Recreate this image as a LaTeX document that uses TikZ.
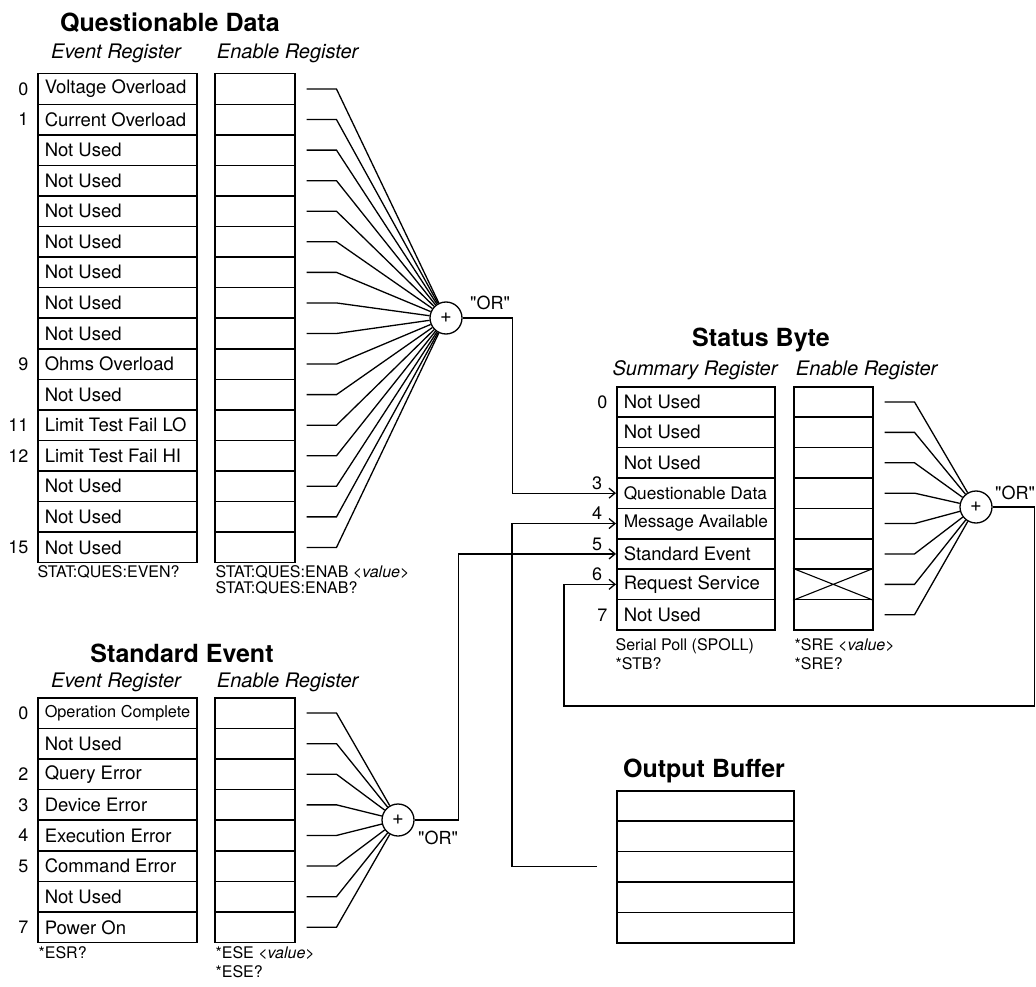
\documentclass[tikz,border=0pt]{standalone}
\usepackage{fontspec}
\setmainfont{TeX Gyre Heros}[Ligatures=TeXOff]
\usetikzlibrary{arrows.meta}

\newcommand{\sm}{\fontsize{17.3}{20}\selectfont}
\newcommand{\celltxt}[2]{\makebox[#1][l]{#2}}

\begin{document}
\begin{tikzpicture}[x=1pt,y=-1pt,line width=1.3pt,
        cell/.style={draw,line width=1.5pt,inner sep=0pt,anchor=north west},
        txtcell/.style={cell,inner xsep=7pt,font=\fontsize{18.5}{20}\selectfont},
        gate/.style={draw,circle,minimum size=32pt,inner sep=0pt,font=\fontsize{20}{20}\selectfont},
        title/.style={font=\bfseries\fontsize{25}{28}\selectfont},
        head/.style={font=\itshape\fontsize{20}{22}\selectfont},
        num/.style={anchor=east,inner sep=0pt,font=\fontsize{18}{20}\selectfont},
        ortxt/.style={inner sep=0pt,font=\fontsize{18}{20}\selectfont},
        cmd/.style={anchor=north west,inner sep=0pt,align=left,font=\fontsize{16}{19}\selectfont},
        arr/.style={-{Straight Barb[length=6pt,width=10pt]}}]
            \useasboundingbox (0,0) rectangle (1036,987);

            \node[title] (qtitle) at (170,23) {Questionable Data};
            \node[head] (qev) at (116,53) {Event Register};
            \node[head,anchor=west] (qen) at (213,53) {Enable Register};
            \node[gate] (qgate) at (446,318) {+};
            \node[ortxt] (qor) at (490,303) {"OR"};
            \foreach \lbl [count=\i from 0] in {Voltage Overload,Current Overload,Not Used,Not Used,Not Used,Not Used,Not Used,Not Used,Not Used,Ohms Overload,Not Used,Limit Test Fail LO,Limit Test Fail HI,Not Used,Not Used,Not Used}{
                \node[txtcell,minimum height=30.56pt] (qe\i) at (37,73+\i*30.56) {\celltxt{145pt}{\lbl}};
                \node[cell,minimum width=80pt,minimum height=30.56pt] (qn\i) at (214,73+\i*30.56) {};
                \draw (qn\i.east) ++(11,0) -- ++(30,0) -- (qgate);
            }
            \foreach \i in {0,1,9,11,12,15}
                \node[num] (qnum\i) at ([xshift=-8pt]qe\i.west) {\i};
            \node[cmd] (qevcmd) at (37,565) {STAT:QUES:EVEN?};
            \node[cmd,font=\fontsize{16}{16}\selectfont] (qencmd) at (215,565) {STAT:QUES:ENAB \textit{<value>}\\STAT:QUES:ENAB?};

            \node[title] (stitle) at (182,653) {Standard Event};
            \node[head] (sev) at (116,682) {Event Register};
            \node[head,anchor=west] (sen) at (213,682) {Enable Register};
            \node[gate] (sgate) at (398,820) {+};
            \node[ortxt] (sor) at (438,838) {"OR"};
            \foreach \lbl [count=\i from 0] in {{\fontsize{16.3}{18}\selectfont Operation Complete},Not Used,Query Error,Device Error,Execution Error,Command Error,Not Used,Power On}{
                \node[txtcell,minimum height=30.6pt] (se\i) at (37,697+\i*30.6) {\celltxt{145pt}{\lbl}};
                \node[cell,minimum width=80pt,minimum height=30.6pt] (sn\i) at (214,697+\i*30.6) {};
                \draw (sn\i.east) ++(11,0) -- ++(30,0) -- (sgate);
            }
            \foreach \i in {0,2,3,4,5,7}
                \node[num] (snum\i) at ([xshift=-8pt]se\i.west) {\i};
            \node[cmd] (sevcmd) at (38,946) {*ESR?};
            \node[cmd] (sencmd) at (215,946) {*ESE \textit{<value>}\\*ESE?};

            \node[title] (btitle) at (761,340) {Status Byte};
            \node[head] (bsum) at (695,370) {Summary Register};
            \node[head,anchor=west] (ben) at (792,370) {Enable Register};
            \node[gate] (bgate) at (976,507) {+};
            \node[ortxt] (bor) at (1015,493) {"OR"};
            \foreach \lbl [count=\i from 0] in {Not Used,Not Used,Not Used,{\sm Questionable Data},{\sm Message Available},Standard Event,Request Service,Not Used}{
                \node[txtcell,minimum height=30.4pt] (sb\i) at (616,386+\i*30.4) {\celltxt{144pt}{\lbl}};
                \node[cell,minimum width=79pt,minimum height=30.4pt] (bn\i) at (793,386+\i*30.4) {};
                \draw (bn\i.east) ++(11,0) -- ++(30,0) -- (bgate);
            }
            \draw[line width=1.1pt] (bn6.north west) -- (bn6.south east) (bn6.south west) -- (bn6.north east);
            \foreach \i in {0,7}
                \node[num] (bnum\i) at ([xshift=-8pt]sb\i.west) {\i};
            \foreach \i in {3,4,5,6}
                \node[num,anchor=center] (bnum\i) at ([xshift=-19pt,yshift=10pt]sb\i.west) {\i};
            \node[cmd] (bsumcmd) at (615,638) {Serial Poll (SPOLL)\\*STB?};
            \node[cmd] (bencmd) at (794,638) {*SRE \textit{<value>}\\*SRE?};

            \node[title] (otitle) at (704,771) {Output Buffer};
            \foreach \i in {0,...,4}
                \node[cell,minimum width=177pt,minimum height=30.4pt] (ob\i) at (616,790+\i*30.4) {};

            \coordinate (obout) at ([xshift=-19pt]ob2.west);
            \coordinate (loopR) at (1034.5,706);
            \coordinate (loopL) at (564,706);
            \draw[arr] (qgate.east) -- ++(50,0) |- (sb3.west);
            \draw[arr] (obout) -- ++(-85,0) |- (sb4.west);
            \draw[arr] (sgate.east) -- ++(44,0) |- (sb5.west);
            \draw[arr] (bgate.east) -| (loopR) -- (loopL) |- (sb6.west);
        \end{tikzpicture}
\end{document}
